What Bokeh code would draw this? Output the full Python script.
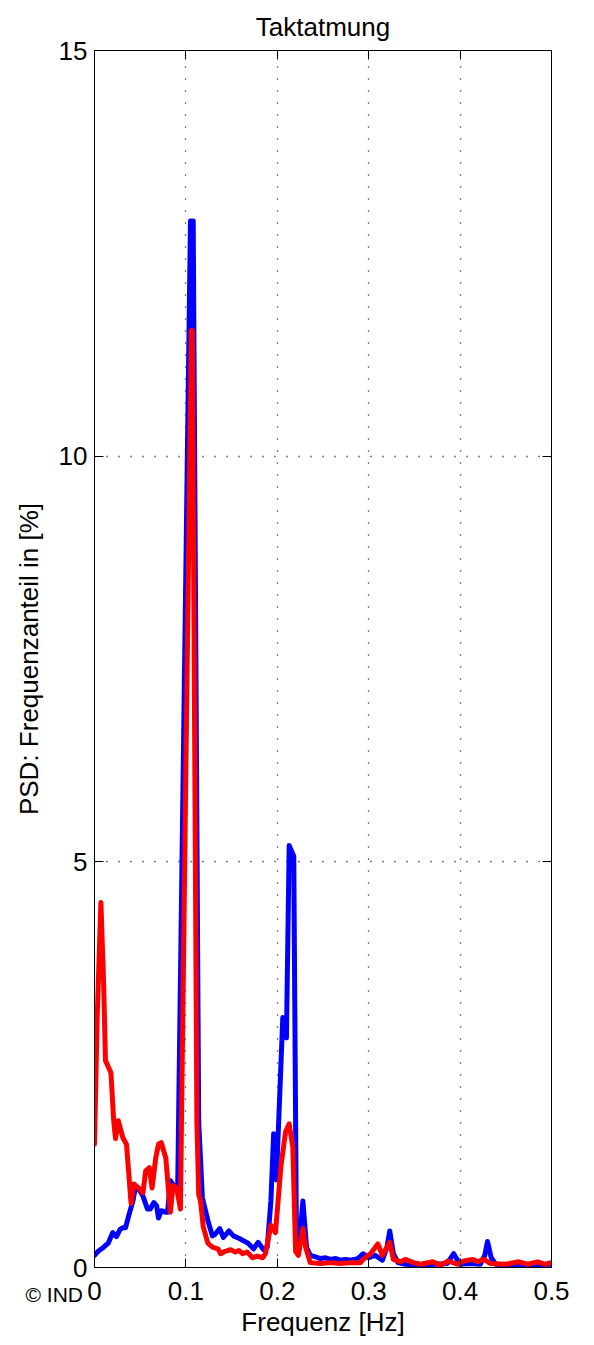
from bokeh.plotting import figure
from bokeh.models import Range1d, LinearAxis, FixedTicker, Label, CustomJSTickFormatter
from bokeh.embed import file_html
from bokeh.resources import INLINE

x_ticks = [0, 0.1, 0.2, 0.3, 0.4, 0.5]
x_tick_labels = ["0", "0.1", "0.2", "0.3", "0.4", "0.5"]
y_ticks = [0, 5, 10, 15]
y_tick_labels = ["0", "5", "10", "15"]

blue_f = [0, 0.004, 0.010, 0.015, 0.020, 0.024, 0.028, 0.031, 0.034, 0.037, 0.042, 0.045,
          0.048, 0.053, 0.058, 0.061, 0.065, 0.068, 0.070, 0.073, 0.078, 0.080, 0.083, 0.086,
          0.091, 0.105, 0.108, 0.114, 0.118, 0.124, 0.129, 0.132, 0.137, 0.141, 0.147, 0.152,
          0.158, 0.163, 0.168, 0.174, 0.179, 0.185, 0.189, 0.193, 0.196, 0.199, 0.206, 0.210,
          0.213, 0.218, 0.221, 0.224, 0.228, 0.232, 0.236, 0.242, 0.247, 0.253, 0.258, 0.264,
          0.269, 0.275, 0.280, 0.288, 0.294, 0.300, 0.307, 0.315, 0.320, 0.323, 0.327, 0.332,
          0.340, 0.357, 0.373, 0.386, 0.393, 0.400, 0.411, 0.422, 0.427, 0.430, 0.434, 0.439,
          0.455, 0.477, 0.500]
blue_v = [0.15, 0.20, 0.25, 0.30, 0.43, 0.38, 0.47, 0.49, 0.49, 0.62, 0.82, 1.00,
          0.98, 0.88, 0.72, 0.72, 0.80, 0.76, 0.61, 0.70, 0.68, 0.68, 1.07, 1.02,
          0.98, 12.9, 12.9, 1.80, 0.86, 0.58, 0.39, 0.41, 0.48, 0.37, 0.45, 0.39,
          0.36, 0.33, 0.30, 0.23, 0.31, 0.22, 0.25, 0.82, 1.65, 1.08, 3.08, 2.83,
          5.20, 5.07, 0.25, 0.30, 0.82, 0.25, 0.15, 0.13, 0.11, 0.12, 0.10, 0.11,
          0.09, 0.10, 0.09, 0.11, 0.17, 0.12, 0.15, 0.09, 0.25, 0.45, 0.17, 0.06,
          0.04, 0.03, 0.04, 0.05, 0.17, 0.04, 0.05, 0.04, 0.15, 0.32, 0.12, 0.04,
          0.03, 0.03, 0.04]

red_f = [0, 0.003, 0.007, 0.010, 0.012, 0.018, 0.021, 0.023, 0.026, 0.031, 0.035, 0.037,
         0.040, 0.043, 0.048, 0.053, 0.056, 0.060, 0.063, 0.067, 0.070, 0.073, 0.078, 0.081,
         0.083, 0.086, 0.090, 0.094, 0.106, 0.107, 0.112, 0.114, 0.116, 0.119, 0.124, 0.129,
         0.135, 0.138, 0.143, 0.149, 0.154, 0.158, 0.162, 0.167, 0.173, 0.178, 0.184, 0.187,
         0.193, 0.198, 0.204, 0.209, 0.213, 0.217, 0.220, 0.223, 0.228, 0.231, 0.236, 0.247,
         0.258, 0.269, 0.280, 0.291, 0.294, 0.302, 0.310, 0.315, 0.323, 0.327, 0.335, 0.340,
         0.349, 0.357, 0.370, 0.379, 0.387, 0.397, 0.404, 0.414, 0.419, 0.426, 0.433, 0.450,
         0.464, 0.474, 0.485, 0.493, 0.500]
red_v = [1.52, 3.10, 4.50, 3.50, 2.55, 2.40, 1.81, 1.59, 1.81, 1.60, 1.52, 1.23,
         0.79, 1.03, 0.98, 0.92, 1.19, 1.23, 0.98, 1.35, 1.52, 1.54, 1.35, 0.95,
         0.68, 1.01, 0.98, 0.72, 11.55, 11.55, 1.80, 0.90, 0.82, 0.50, 0.30, 0.25,
         0.23, 0.17, 0.20, 0.22, 0.19, 0.21, 0.17, 0.19, 0.12, 0.14, 0.12, 0.17,
         0.52, 0.43, 1.25, 1.67, 1.77, 1.48, 0.20, 0.15, 0.48, 0.25, 0.06, 0.05,
         0.06, 0.05, 0.06, 0.06, 0.10, 0.17, 0.29, 0.15, 0.31, 0.10, 0.07, 0.10,
         0.06, 0.04, 0.07, 0.03, 0.08, 0.04, 0.08, 0.10, 0.07, 0.10, 0.05, 0.04,
         0.07, 0.04, 0.07, 0.04, 0.06]

FONT = "Liberation Sans"

p = figure(width=594, height=1345, x_range=Range1d(0, 0.5), y_range=Range1d(0, 15),
           output_backend="svg", toolbar_location=None,
           min_border_left=94, min_border_right=43, min_border_top=48, min_border_bottom=78)
p.background_fill_color = "white"
p.border_fill_color = "white"
p.outline_line_color = "black"
p.outline_line_width = 1

p.title.text = "Taktatmung"
p.title.align = "center"
p.title.text_font = FONT
p.title.text_font_size = "26px"
p.title.text_font_style = "normal"
p.title.text_color = "black"
p.title.standoff = 18
p.title.offset = 0

x_over = {t: l for t, l in zip(x_ticks, x_tick_labels)}
y_over = {t: l for t, l in zip(y_ticks, y_tick_labels)}

def style_axis(ax, ticks):
    ax.ticker = FixedTicker(ticks=ticks)
    ax.major_tick_in = 9
    ax.major_tick_out = 0
    ax.minor_tick_in = 0
    ax.minor_tick_out = 0
    ax.axis_line_color = "black"
    ax.major_tick_line_color = "black"
    ax.major_label_text_font = FONT
    ax.major_label_text_color = "black"
    ax.major_label_text_font_size = "26px"

style_axis(p.xaxis[0], x_ticks)
style_axis(p.yaxis[0], y_ticks)
p.xaxis[0].major_label_overrides = x_over
p.yaxis[0].major_label_overrides = y_over
p.xaxis[0].major_label_standoff = 14
p.yaxis[0].major_label_standoff = 7

p.xaxis[0].axis_label = "Frequenz [Hz]"
p.yaxis[0].axis_label = "PSD: Frequenzanteil in [%]"
for ax in (p.xaxis[0], p.yaxis[0]):
    ax.axis_label_text_font = FONT
    ax.axis_label_text_font_size = "26px"
    ax.axis_label_text_font_style = "normal"
    ax.axis_label_text_color = "black"
p.xaxis[0].axis_label_standoff = 4
p.yaxis[0].axis_label_standoff = 12

top_ax = LinearAxis(formatter=CustomJSTickFormatter(code="return ''"))
style_axis(top_ax, x_ticks)
top_ax.major_label_standoff = 0
p.add_layout(top_ax, "above")
right_ax = LinearAxis(formatter=CustomJSTickFormatter(code="return ''"))
style_axis(right_ax, y_ticks)
right_ax.major_label_standoff = 0
p.add_layout(right_ax, "right")

p.xgrid.ticker = FixedTicker(ticks=x_ticks)
p.ygrid.ticker = FixedTicker(ticks=y_ticks)
for g in (p.xgrid, p.ygrid):
    g.grid_line_color = "black"
    g.grid_line_dash = "1 11"
    g.grid_line_width = 1.3
    g.grid_line_alpha = 1.0

p.line(blue_f, blue_v, line_color="#0000ff", line_width=5, line_join="round", line_cap="round")
p.line(red_f, red_v, line_color="#ff0000", line_width=5, line_join="round", line_cap="round")

copy = Label(x=-69, y=57, x_units="screen", y_units="screen", text="\u00a9 IND\n",
             text_align="left", text_baseline="alphabetic", text_line_height=-1.0,
             text_font=FONT, text_font_size="21px", text_color="black")
p.add_layout(copy, "below")

open("out.html", "w").write(file_html(p, INLINE))
